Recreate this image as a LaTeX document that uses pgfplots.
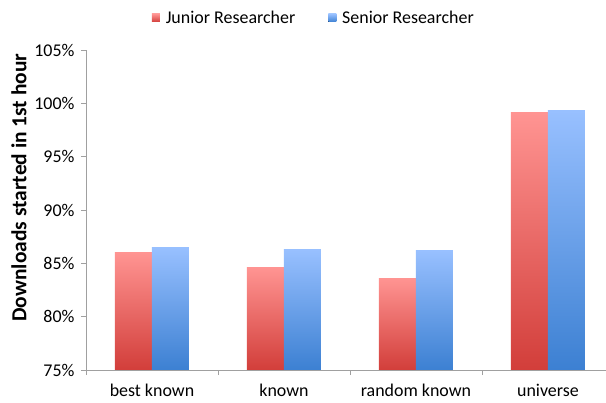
\documentclass[border=0pt]{standalone}
\usepackage{pgfplots}
\pgfplotsset{compat=1.18}
\usepackage{fontspec}
\setmainfont{Carlito}

\definecolor{redtop}{RGB}{255,148,146}
\definecolor{redbot}{RGB}{210,62,58}
\definecolor{bluetop}{RGB}{152,192,255}
\definecolor{bluebot}{RGB}{60,128,210}
\definecolor{axisgray}{RGB}{160,160,160}

% each bar is its own plot, so that its gradient runs over that bar alone
\pgfplotsset{
  junior/.style={draw=none, top color=redtop, bottom color=redbot, bar shift=-18.5bp},
  senior/.style={draw=none, top color=bluetop, bottom color=bluebot, bar shift=18.5bp},
}

\begin{document}
\begin{tikzpicture}
\begin{axis}[
  scale only axis,
  width=520bp, height=320bp,
  ybar=0pt, bar width=37bp,
  xmin=-0.5, xmax=3.44,
  % bars rise from the 75% floor, so the values are measured from there
  y filter/.expression={y-75},
  ymin=0, ymax=30,
  ytick={0,5,...,30},
  yticklabel={\pgfmathparse{\tick+75}\pgfmathprintnumber{\pgfmathresult}\%},
  /pgf/number format/assume math mode=true,
  xtick={-0.5,0.5,1.5,2.5},
  xticklabels={},
  extra x ticks={0,1,2,3},
  extra x tick labels={best known,known,random known,universe},
  extra x tick style={major tick length=0pt, xticklabel style={yshift=-11bp}},
  tick align=outside,
  major tick length=5bp,
  tick style={axisgray, line width=0.8bp},
  axis x line*=bottom,
  axis y line*=left,
  axis line style={axisgray, line width=0.8bp, -},
  font=\fontsize{18}{21}\selectfont,
  ticklabel style={font=\fontsize{18}{21}\selectfont},
  yticklabel style={xshift=-3bp},
  ylabel={\bfseries Downloads started in 1st hour},
  ylabel style={at={(axis description cs:-0.129,0.57)}, anchor=center,
    font=\fontsize{21.5}{25}\selectfont},
  legend columns=2,
  legend style={draw=none, fill=none, at={(axis description cs:0.438,1.1)}, anchor=center,
    font=\fontsize{18}{21}\selectfont,
    /tikz/every even column/.append style={column sep=31bp}},
  legend image code/.code={\fill[#1] (0bp,-4bp) rectangle (8bp,4bp); \path (12bp,0bp);},
]
\addplot[junior] coordinates {(0,86.0)};
\addplot[senior] coordinates {(0,86.5)};
\addplot[junior, forget plot] coordinates {(1,84.6)};
\addplot[senior, forget plot] coordinates {(1,86.3)};
\addplot[junior, forget plot] coordinates {(2,83.6)};
\addplot[senior, forget plot] coordinates {(2,86.2)};
\addplot[junior, forget plot] coordinates {(3,99.1)};
\addplot[senior, forget plot] coordinates {(3,99.3)};
\legend{Junior Researcher, Senior Researcher}
\end{axis}
\pgfresetboundingbox
\useasboundingbox (-86bp,-33bp) rectangle (520bp,370bp);
\end{tikzpicture}
\end{document}
